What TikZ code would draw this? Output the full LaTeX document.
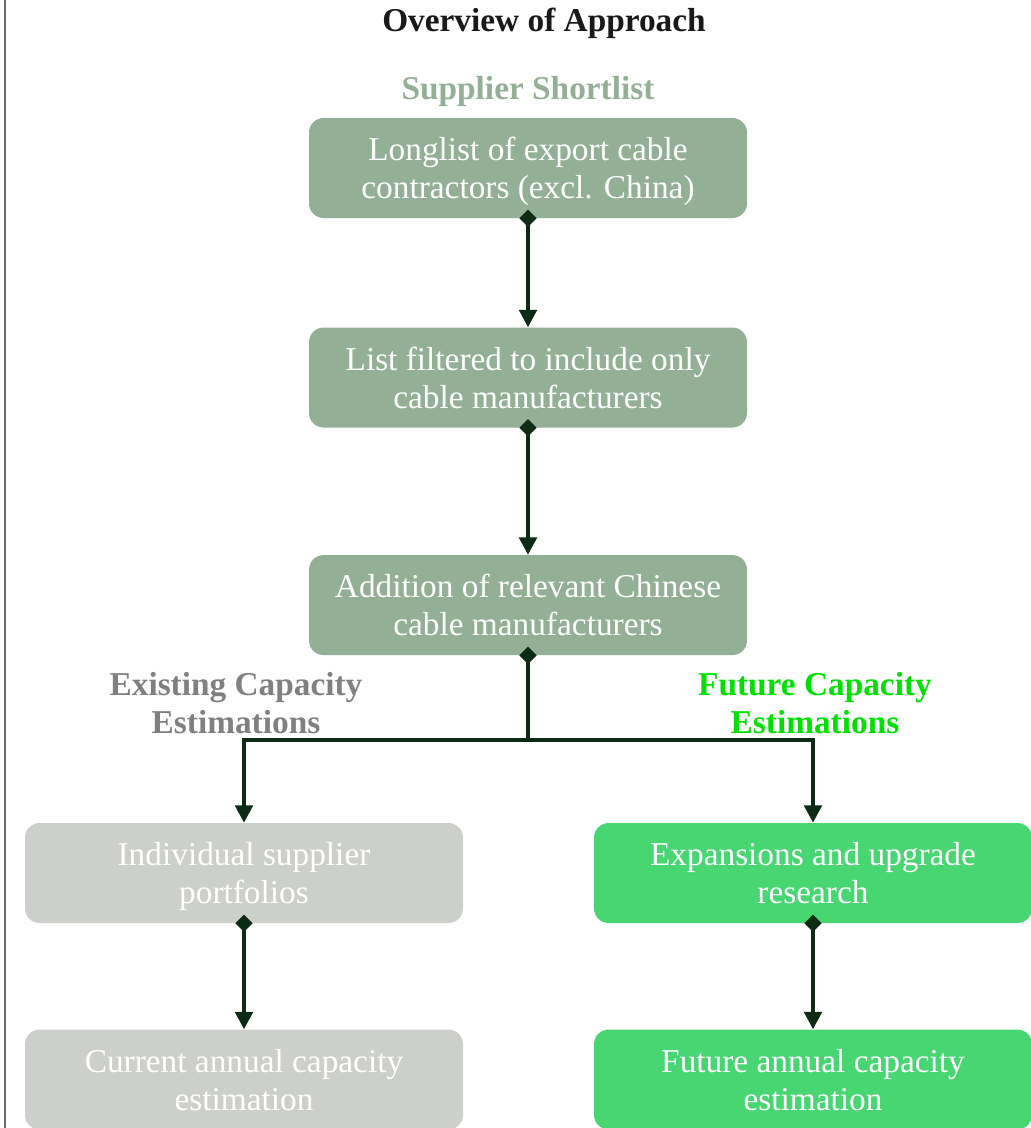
\documentclass[tikz,border=0pt]{standalone}
\usepackage{fontspec}
\setmainfont{Liberation Serif}
\usepackage{xcolor}
\usetikzlibrary{arrows.meta,calc,positioning}

\definecolor{sage}{HTML}{93B096}
\definecolor{stone}{HTML}{CDCFCA}
\definecolor{leaf}{HTML}{47D672}
\definecolor{lime}{HTML}{00E000}
\definecolor{slate}{HTML}{808080}
\definecolor{pine}{HTML}{0D2A14}

\begin{document}
\begin{tikzpicture}[
          x=0.75pt, y=-0.75pt,
          font=\fontsize{25pt}{28.5pt}\selectfont,
          box/.style={rounded corners=11pt, minimum width=328.5pt, minimum height=75pt, inner sep=0pt, text depth=0pt, align=center, text=white},
          head/.style={font=\fontsize{25pt}{28pt}\selectfont\bfseries, align=center},
          arr/.style={{Diamond[length=13pt,width=13pt]}-{Triangle[length=13pt,width=13pt]}, line width=3pt, draw=pine, shorten <=-6.5pt},
          tip/.style={-{Triangle[length=13pt,width=13pt]}, line width=3pt, draw=pine}
      ]
        \useasboundingbox (0,0) rectangle (1031,1128);
        \clip (0,0) rectangle (1031,1128);
        \draw[line width=1.6pt, draw=black!58] (5,0) -- (5,1128);
        \node[head, text=black!90] (title) at (544,23) {Overview of Approach};
        \node[head, text=sage] (shortlist) at (528,91) {Supplier Shortlist};
        \node[box, fill=sage] (longlist) at (528,168) {Longlist of export cable\\contractors (excl. China)};
        \node[box, fill=sage, below=81.75pt of longlist] (filtered) {List filtered to include only\\cable manufacturers};
        \node[box, fill=sage, below=95.25pt of filtered] (chinese) {Addition of relevant Chinese\\cable manufacturers};
        \node[head, text=slate] (existing) at (236,703) {Existing Capacity\\Estimations};
        \node[head, text=lime] (future) at (815,703) {Future Capacity\\Estimations};
        \node[box, fill=stone] (portfolios) at (244,873) {Individual supplier\\portfolios};
        \node[box, fill=leaf] (expansions) at (813,873) {Expansions and upgrade\\research};
        \node[box, fill=stone, below=79.5pt of portfolios] (current) {Current annual capacity\\estimation};
        \node[box, fill=leaf, below=79.5pt of expansions] (futurecap) {Future annual capacity\\estimation};
        \coordinate (split) at (528,740);
        \draw[arr] (longlist) -- (filtered);
        \draw[arr] (filtered) -- (chinese);
        \draw[arr] (chinese.south) -- (split) -| (portfolios.north);
        \draw[tip] (split) -| (expansions.north);
        \draw[arr] (portfolios) -- (current);
        \draw[arr] (expansions) -- (futurecap);
      \end{tikzpicture}
\end{document}
